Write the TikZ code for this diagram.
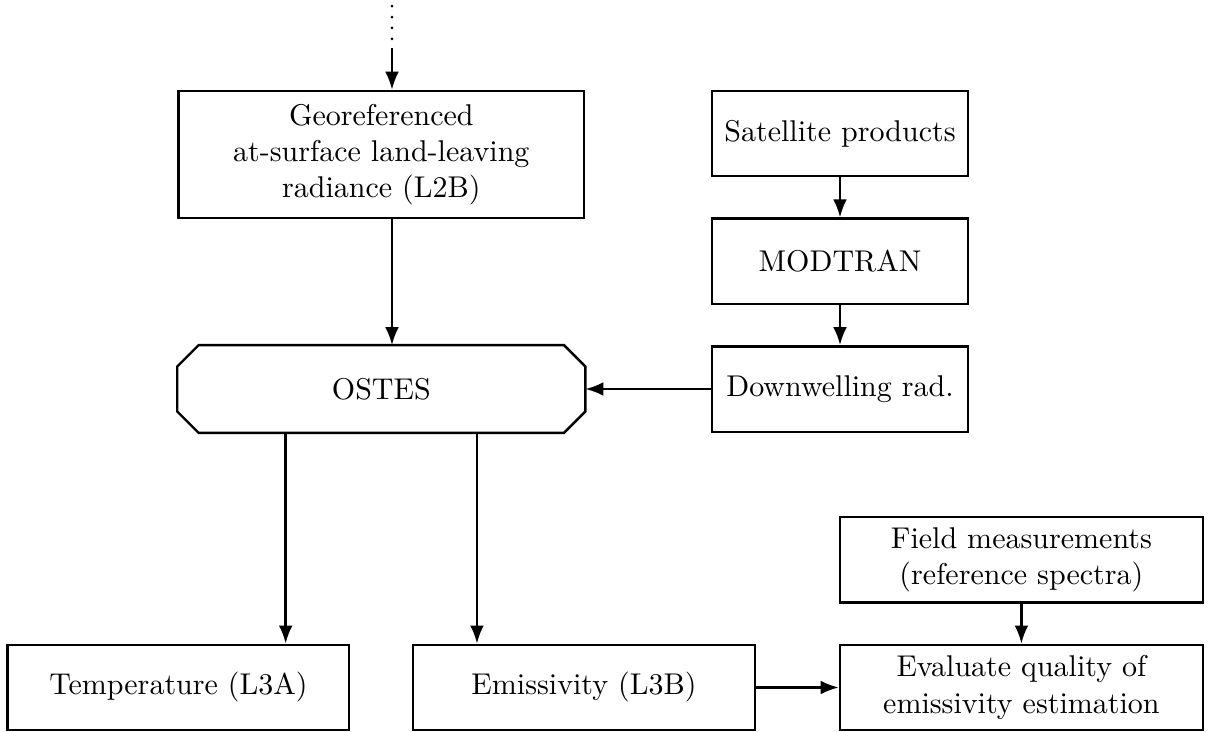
\documentclass[tikz,border=0pt]{standalone}
\usetikzlibrary{arrows.meta}

\tikzset{
  block/.style={draw, thick, rectangle, align=center, minimum height=1cm},
  proc/.style={thick, rectangle, minimum height=1cm},
  flow/.style={thick, -{Latex[length=6pt, width=4.6pt]}}
}

\begin{document}
\begin{tikzpicture}
  \def\width{14.145}
  \def\height{8.571}
  \def\cut{0.25}

  \useasboundingbox (0,0) rectangle (\width,\height);

  % upper part
  \node[block, minimum width=4.75cm, minimum height=1.49cm] (l2b) at (4.465,6.761)
    {Georeferenced\\at-surface land-leaving\\radiance (L2B)};
  \node[block, minimum width=3cm] (sat) at (9.836,7.008) {Satellite products};
  \node[block, minimum width=3cm] (modtran) at (9.836,5.511) {MODTRAN};
  \node[block, minimum width=3cm] (down) at (9.836,4.016) {Downwelling rad.};
  \node[proc, minimum width=4.75cm] (ostes) at (4.465,4.016) {OSTES};

  % octagon round OSTES
  \draw[thick] ([xshift=\cut cm]ostes.north west) -- ([xshift=-\cut cm]ostes.north east)
    -- ([yshift=-\cut cm]ostes.north east) -- ([yshift=\cut cm]ostes.south east)
    -- ([xshift=-\cut cm]ostes.south east) -- ([xshift=\cut cm]ostes.south west)
    -- ([yshift=\cut cm]ostes.south west) -- ([yshift=-\cut cm]ostes.north west) -- cycle;

  % lower part
  \node[block, minimum width=4.25cm] (field) at (11.96,2.014)
    {Field measurements\\(reference spectra)};
  \node[block, minimum width=4cm] (temp) at (2.09,0.521) {Temperature (L3A)};
  \node[block, minimum width=4cm] (emis) at (6.838,0.521) {Emissivity (L3B)};
  \node[block, minimum width=4.25cm] (eval) at (11.96,0.521)
    {Evaluate quality of\\emissivity estimation};

  \coordinate (in) at (4.59,8.50);
  \coordinate (dotend) at (4.59,8.11);
  \coordinate (inend) at (4.59,8.01);
  \coordinate (ta) at ([xshift=-1.12cm]ostes.south);
  \coordinate (ea) at ([xshift=1.12cm]ostes.south);

  \draw[line width=1pt, line cap=round, dash pattern=on 0pt off 3.65pt] (in) -- (dotend);
  \draw[flow] (inend) -- (l2b.north -| in);
  \draw[flow] (l2b.south -| in) -- (ostes.north -| in);
  \draw[flow] (sat) -- (modtran);
  \draw[flow] (modtran) -- (down);
  \draw[flow] (down) -- (ostes);
  \draw[flow] (ta) -- (ta |- temp.north);
  \draw[flow] (ea) -- (ea |- emis.north);
  \draw[flow] (emis) -- (eval);
  \draw[flow] (field) -- (eval);
\end{tikzpicture}
\end{document}
